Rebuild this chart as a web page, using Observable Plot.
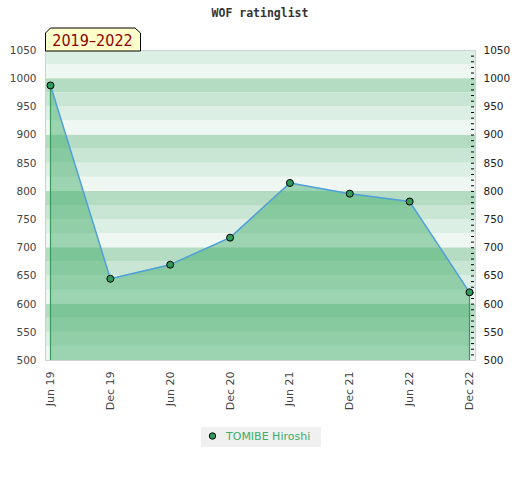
<!DOCTYPE html>
<html><head><meta charset="utf-8">
<script src="https://cdn.jsdelivr.net/npm/d3@7"></script>
<script src="https://cdn.jsdelivr.net/npm/@observablehq/plot@0.6"></script>
<style>body{margin:0;background:#fff}</style>
</head><body><div id="chart"></div>
<script>
const chartTitle = "WOF ratinglist";
const rangeLabel = "2019–2022";
const playerName = "TOMIBE Hiroshi";
const periods = ["Jun 19","Dec 19","Jun 20","Dec 20","Jun 21","Dec 21","Jun 22","Dec 22"];
const ratings = [988, 645, 670, 718, 815, 796, 782, 621];
const yTicks = [500, 550, 600, 650, 700, 750, 800, 850, 900, 950, 1000, 1050];
const bandStarts = [500,525,550,575,600,625,650,675,700,725,750,775,800,825,850,875,900,925,950,975,1000,1025];
const minorTicks = d3.range(500, 1051, 10);
const bandColors = ["#eff7f2", "#dcefe4", "#c8e6d3", "#b3dcc2"];

const data = periods.map((p, i) => ({i, p, v: ratings[i]}));
const bands = bandStarts.map(v => ({y1: v, y2: v + 25, fill: bandColors[(v % 100) / 25]}));
const ends = [data[0], data[data.length - 1]];

const chart = Plot.plot({
  width: 520, height: 480,
  marginTop: 50, marginBottom: 120, marginLeft: 45, marginRight: 45,
  style: {fontFamily: "DejaVu Sans", fontSize: "10.5px", color: "#333", background: "#fff"},
  x: {type: "linear", domain: [0, periods.length - 1], insetLeft: 5, insetRight: 6},
  y: {domain: [500, 1050]},
  marks: [
    Plot.rect(bands, {y1: "y1", y2: "y2", fill: "fill"}),
    Plot.areaY(data, {x: "i", y1: 500, y2: "v", fill: "#40ac69", fillOpacity: 0.48}),
    Plot.ruleX(ends, {x: "i", y1: 500, y2: "v", stroke: "#3a9a5b", strokeWidth: 1.2}),
    Plot.tickY(minorTicks, {y: d => d, insetLeft: 426, insetRight: 1, stroke: "#000"}),
    Plot.frame({stroke: "#d0d0d0"}),
    Plot.line(data, {x: "i", y: "v", stroke: "#4f9fdc", strokeWidth: 1.5}),
    Plot.dot(data, {x: "i", y: "v", r: 3.5, fill: "#2f9a5a", stroke: "#000", strokeWidth: 1}),
    Plot.axisY({anchor: "left", ticks: yTicks, tickFormat: d => String(d), tickSize: 0, tickPadding: 9, fill: "#444", label: null}),
    Plot.axisY({anchor: "right", ticks: yTicks, tickFormat: d => String(d), tickSize: 0, tickPadding: 8, fill: "#222", label: null}),
    Plot.axisX({ticks: d3.range(periods.length), tickFormat: i => periods[i], tickRotate: -90,
                tickSize: 0, tickPadding: 11, fontSize: 11, fill: "#444", label: null})
  ]
});

const svg = d3.select(chart);
svg.append("text").attr("x", 260).attr("y", 17).attr("text-anchor", "middle")
  .attr("font-family", "DejaVu Sans Mono").attr("font-weight", "bold").attr("font-size", "11.5px")
  .attr("fill", "#333").text(chartTitle);
svg.append("path").attr("d", "M45.5,51V33L50.5,28H135L140.5,33V51Z")
  .attr("fill", "#ffffcc").attr("stroke", "#000").attr("stroke-width", 1);
svg.append("text").attr("x", 92.5).attr("y", 46).attr("text-anchor", "middle")
  .attr("font-family", "DejaVu Sans Condensed").attr("font-size", "16px")
  .attr("fill", "#8b0000").text(rangeLabel);
svg.append("rect").attr("x", 201).attr("y", 427).attr("width", 120).attr("height", 20).attr("fill", "#f0f0f0");
svg.append("circle").attr("cx", 212.5).attr("cy", 436).attr("r", 3.2)
  .attr("fill", "#2f9a5a").attr("stroke", "#000").attr("stroke-width", 1);
svg.append("text").attr("x", 226).attr("y", 440).attr("text-anchor", "start")
  .attr("font-family", "DejaVu Sans").attr("font-size", "11px")
  .attr("fill", "#3cae68").text(playerName);

document.getElementById("chart").appendChild(chart);
</script></body></html>
